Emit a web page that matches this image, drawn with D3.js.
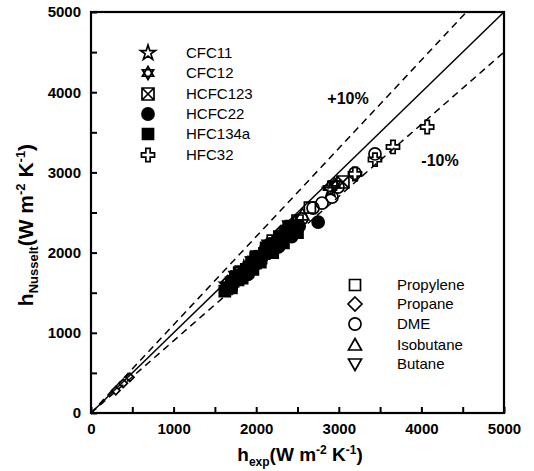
<!DOCTYPE html>
<html><head><meta charset="utf-8">
<script src="https://cdn.jsdelivr.net/npm/d3@7"></script>
<style>
body{margin:0;background:#fff;}
text{font-family:"Liberation Sans",Arial,sans-serif;}
</style></head>
<body><svg id="c" width="534" height="471"></svg>
<script>
// ---- data ----
const xTicks = [0,500,1000,1500,2000,2500,3000,3500,4000,4500,5000];
const yTicks = [0,500,1000,1500,2000,2500,3000,3500,4000,4500,5000];
const refLines = [{k:1.0,dash:null},{k:1.1,dash:"7,5"},{k:0.9,dash:"7,5"}];
const legend1 = ["CFC11","CFC12","HCFC123","HCFC22","HFC134a","HFC32"];
const legend2 = ["Propylene","Propane","DME","Isobutane","Butane"];

const CFC11 = [[1650,1600],[1850,1800],[2050,1980],[2250,2150],[2450,2330],[2900,2780]];
const CFC12 = [[1700,1650],[1950,1900],[2150,2050],[2350,2250],[2950,2850]];
const HCFC123 = [[1800,1740],[2000,1930],[2200,2100],[2400,2300],[3050,2880]];
const Propylene = [[1800,1750],[2000,1950],[2200,2150],[2500,2400],[2650,2560]];
const Propane = [[300,280],[390,370],[470,445],[1650,1620],[2300,2250]];
const DME = [[2550,2420],[2688,2556],[2797,2618],[2918,2693],[2990,2818],[3196,2990],[3438,3230]];
const Isobutane = [[1700,1680],[1900,1870],[2100,2060],[2350,2220],[2470,2380],[2560,2470]];
const Butane = [[1750,1700],[1950,1880],[2150,2090],[2400,2330]];
const HFC32 = [[1680,1560],[2000,1880],[2300,2130],[2893,2806],[3196,2980],[3438,3160],[3656,3317],[4070,3566]];
const HCFC22 = [[1640,1540],[1680,1580],[1750,1650],[1780,1710],[1820,1700],[1870,1760],[1900,1730],[1930,1820],[1980,1850],[2000,1950],[2030,1880],[2080,1960],[2130,1990],[2160,2100],[2200,2050],[2250,2100],[2270,2070],[2320,2160],[2360,2280],[2380,2220],[2430,2200],[2480,2300],[2520,2330],[2750,2380]];
const HFC134a = [[1620,1520],[1650,1560],[1700,1600],[1700,1560],[1720,1640],[1760,1700],[1780,1660],[1800,1720],[1830,1680],[1850,1740],[1880,1790],[1900,1760],[1920,1800],[1950,1850],[1960,1790],[1990,1870],[2020,1910],[2050,1880],[2060,1930],[2100,1990],[2120,2060],[2140,2010],[2180,2060],[2200,2000],[2220,2080],[2260,2130],[2280,2200],[2300,2150],[2330,2120],[2350,2200],[2400,2240],[2420,2330],[2450,2290],[2500,2250]];

const svg = d3.select("#c");
const x = d3.scaleLinear().domain([0,5000]).range([91,504]);
const y = d3.scaleLinear().domain([0,5000]).range([413,12]);

// marker path generators
function markerPath(type){
  const r=6;
  switch(type){
    case "star5": return d3.symbol(d3.symbolStar,70)();
    case "star6": {
      const a=6.5, pts=i=>[a*Math.sin(i*Math.PI*2/3), -a*Math.cos(i*Math.PI*2/3)];
      const t1=[0,1,2].map(pts), t2=[0,1,2].map(i=>{const p=pts(i);return[-p[0],-p[1]];});
      return "M"+t1.join("L")+"Z M"+t2.join("L")+"Z";
    }
    case "boxX": return `M${-r},${-r}H${r}V${r}H${-r}Z M${-r},${-r}L${r},${r} M${r},${-r}L${-r},${r}`;
    case "circle": return d3.symbol(d3.symbolCircle,115)();
    case "square": return `M${-r+0.5},${-r+0.5}H${r-0.5}V${r-0.5}H${-r+0.5}Z`;
    case "cross": return d3.symbol(d3.symbolCross,95)();
    case "diamond": return `M0,${-7}L7,0L0,7L-7,0Z`;
    case "triUp": return `M0,${-6.5}L6.5,5L-6.5,5Z`;
    case "triDown": return `M0,${6.5}L6.5,-5L-6.5,-5Z`;
  }
}
const styleOf = {
  CFC11:{t:"star5",fill:false}, CFC12:{t:"star6",fill:false}, HCFC123:{t:"boxX",fill:false},
  HCFC22:{t:"circle",fill:true}, HFC134a:{t:"square",fill:true}, HFC32:{t:"cross",fill:false},
  Propylene:{t:"square",fill:false}, Propane:{t:"diamond",fill:false}, DME:{t:"circle",fill:false},
  Isobutane:{t:"triUp",fill:false}, Butane:{t:"triDown",fill:false}
};
const seriesData = {CFC11,CFC12,HCFC123,Propylene,Propane,DME,Isobutane,Butane,HFC32,HCFC22,HFC134a};

function drawMark(g, name, cx, cy, sc){
  const s=styleOf[name];
  g.append("path").attr("d",markerPath(s.t)).attr("transform",`translate(${cx},${cy}) scale(${sc||1})`)
    .attr("fill",s.fill?"#000":"none").attr("stroke","#000").attr("stroke-width",1.7/(sc||1));
}

// reference lines
refLines.forEach(l=>{
  const xe = Math.min(5000, 5000/l.k);
  svg.append("line").attr("x1",x(0)).attr("y1",y(0)).attr("x2",x(xe)).attr("y2",y(xe*l.k))
    .attr("stroke","#000").attr("stroke-width",1.5).attr("stroke-dasharray",l.dash);
});

// data
const gData = svg.append("g");
Object.keys(seriesData).forEach(name=>{
  seriesData[name].forEach(d=>drawMark(gData,name,x(d[0]),y(d[1]), d[0]<1000?0.6:1));
});

// axes
const xAxis = d3.axisBottom(x).tickValues(xTicks).tickSize(-6).tickPadding(10)
  .tickFormat(d=> d%1000===0 ? d : "");
const yAxis = d3.axisLeft(y).tickValues(yTicks).tickSize(-6).tickPadding(10)
  .tickFormat(d=> d%1000===0 ? d : "");
const gx = svg.append("g").attr("transform",`translate(0,${y(0)})`).call(xAxis);
const gy = svg.append("g").attr("transform",`translate(${x(0)},0)`).call(yAxis);
[gx,gy].forEach(g=>{
  g.select(".domain").remove();
  g.selectAll(".tick line").attr("stroke","#000").attr("stroke-width",2);
  g.selectAll(".tick text").attr("fill","#000").attr("font-size",15).attr("font-weight","bold");
});
svg.append("rect").attr("x",x(0)).attr("y",y(5000)).attr("width",x(5000)-x(0)).attr("height",y(0)-y(5000))
  .attr("fill","none").attr("stroke","#000").attr("stroke-width",2.2);

// axis titles
const xt = svg.append("text").attr("x",300).attr("y",461).attr("text-anchor","middle")
  .attr("font-size",19).attr("font-weight","bold");
xt.append("tspan").text("h");
xt.append("tspan").attr("font-size",12).attr("dy",5).text("exp");
xt.append("tspan").attr("dy",-5).text("(W m");
xt.append("tspan").attr("font-size",12).attr("dy",-7).text("-2");
xt.append("tspan").attr("dy",7).text(" K");
xt.append("tspan").attr("font-size",12).attr("dy",-7).text("-1");
xt.append("tspan").attr("dy",7).text(")");

const yt = svg.append("text").attr("transform","translate(33,225) rotate(-90)").attr("text-anchor","middle")
  .attr("font-size",21).attr("font-weight","bold");
yt.append("tspan").text("h");
yt.append("tspan").attr("font-size",13).attr("dy",5).text("Nusselt");
yt.append("tspan").attr("dy",-5).text("(W m");
yt.append("tspan").attr("font-size",13).attr("dy",-8).text("-2");
yt.append("tspan").attr("dy",8).text(" K");
yt.append("tspan").attr("font-size",13).attr("dy",-8).text("-1");
yt.append("tspan").attr("dy",8).text(")");

// percentage labels
svg.append("text").attr("x",348).attr("y",104).attr("text-anchor","middle").attr("font-size",16)
  .attr("font-weight","bold").text("+10%");
svg.append("text").attr("x",440).attr("y",166).attr("text-anchor","middle").attr("font-size",16)
  .attr("font-weight","bold").text("-10%");

// legends
const l1y = [53,73,94,114,134,155];
legend1.forEach((n,i)=>{
  drawMark(svg,n,148,l1y[i]);
  svg.append("text").attr("x",186).attr("y",l1y[i]+5).attr("font-size",15).text(n);
});
const l2y = [285,304,324,345,364];
legend2.forEach((n,i)=>{
  drawMark(svg,n,355,l2y[i]);
  svg.append("text").attr("x",397).attr("y",l2y[i]+5).attr("font-size",15).text(n);
});
</script></body></html>
